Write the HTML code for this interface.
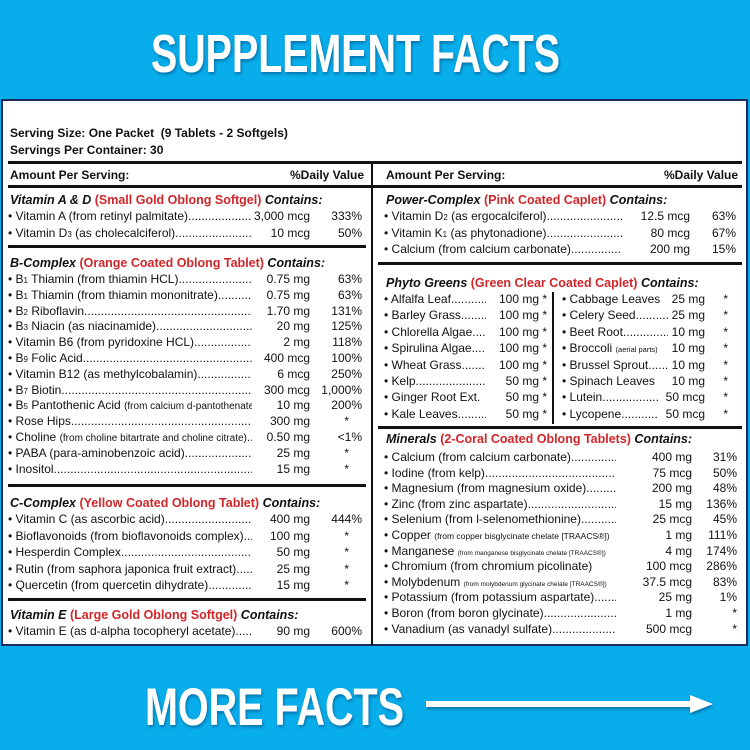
<!DOCTYPE html>
<html><head><meta charset="utf-8"><style>
*{margin:0;padding:0;box-sizing:border-box}
body{width:750px;height:750px;background:#08aeeb;position:relative;overflow:hidden;font-family:"Liberation Sans",Arial,sans-serif;color:#111}
#panel{position:absolute;left:1px;top:99px;width:747px;height:547px;background:#fff;border:2px solid #1d2a5c}
.r{position:absolute;height:16px;line-height:16px;font-size:12px;white-space:nowrap}
.n{position:absolute;overflow:hidden;white-space:nowrap}
.a{position:absolute;text-align:right}
.p{position:absolute;text-align:right}
.h{position:absolute;font-size:12.5px;font-weight:bold;font-style:italic;white-space:nowrap;line-height:16px}
.h span{color:#d0262a;font-style:normal}
.ln{position:absolute;height:3px;background:#111}
.s{font-size:8px}
.t{font-size:7.5px}
</style></head><body>
<svg style="position:absolute;left:0;top:0" width="750" height="750">
<defs><filter id="sh"><feDropShadow dx="1" dy="2" stdDeviation="1.5" flood-color="#036" flood-opacity="0.5"/></filter></defs>
<text x="151" y="72" textLength="409" lengthAdjust="spacingAndGlyphs" font-family="Liberation Sans Narrow, Liberation Sans, sans-serif" font-weight="bold" font-size="54" fill="#fff" filter="url(#sh)">SUPPLEMENT FACTS</text>
<text x="145" y="725" textLength="259" lengthAdjust="spacingAndGlyphs" font-family="Liberation Sans Narrow, Liberation Sans, sans-serif" font-weight="bold" font-size="53" fill="#fff" filter="url(#sh)">MORE FACTS</text>
<g filter="url(#sh)"><rect x="426" y="701" width="266" height="6" fill="#fff"/><polygon points="690,695 713,704 690,713" fill="#fff"/></g>
</svg>
<div id="panel"></div>
<div class="r" style="left:10px;top:125px;font-weight:bold">Serving Size: One Packet&nbsp; (9 Tablets - 2 Softgels)</div>
<div class="r" style="left:10px;top:142px;font-weight:bold">Servings Per Container: 30</div>
<div class="ln" style="left:8px;top:161px;width:734px"></div>
<div style="position:absolute;left:371px;top:162px;width:2px;height:483px;background:#111"></div>
<div class="r" style="left:10px;top:167px;font-weight:bold">Amount Per Serving:</div>
<div class="r" style="left:290px;top:167px;font-weight:bold">%Daily Value</div>
<div class="r" style="left:386px;top:167px;font-weight:bold">Amount Per Serving:</div>
<div class="r" style="left:664px;top:167px;font-weight:bold">%Daily Value</div>
<div class="ln" style="left:8px;top:185px;width:734px"></div>
<div id="L"></div>
<script>
const D='.'.repeat(200);
let html='';
function row(x,y,name,w,amt,ax,aw,pct,px,pw,dots=true){
 html+=`<div class="r" style="left:0;top:${y-8}px;width:750px"><div class="n" style="left:${x}px;width:${w}px">• ${name}${dots?D:''}</div><div class="a" style="left:${ax}px;width:${aw}px">${amt}</div><div class="p" style="left:${px}px;width:${pw}px">${pct}</div></div>`;
}
function hd(x,y,a,b){html+=`<div class="h" style="left:${x}px;top:${y-8}px">${a} <span>${b}</span> Contains:</div>`}
function ln(x,y,w){html+=`<div class="ln" style="left:${x}px;top:${y}px;width:${w}px"></div>`}
const L=(y,n,a,p)=>row(8,y,n,244,a,250,60,p,315,47);
hd(10,200,'Vitamin A &amp; D','(Small Gold Oblong Softgel)');
L(216,'Vitamin A (from retinyl palmitate)','3,000 mcg','333%');
L(233,'Vitamin D<span class="s">3</span> (as cholecalciferol)','10 mcg','50%');
ln(8,245,358);
hd(10,263,'B-Complex','(Orange Coated Oblong Tablet)');
const B=[['B<span class="s">1</span> Thiamin (from thiamin HCL)','0.75 mg','63%'],['B<span class="s">1</span> Thiamin (from thiamin mononitrate)','0.75 mg','63%'],['B<span class="s">2</span> Riboflavin','1.70 mg','131%'],['B<span class="s">3</span> Niacin (as niacinamide)','20 mg','125%'],['Vitamin B6 (from pyridoxine HCL)','2 mg','118%'],['B<span class="s">9</span> Folic Acid','400 mcg','100%'],['Vitamin B12 (as methylcobalamin)','6 mcg','250%'],['B<span class="s">7</span> Biotin','300 mcg','1,000%'],['B<span class="s">5</span> Pantothenic Acid <span style="font-size:10px">(from calcium d-pantothenate)</span>','10 mg','200%'],['Rose Hips','300 mg','*'],['Choline <span style="font-size:10px">(from choline bitartrate and choline citrate)</span>','0.50 mg','&lt;1%'],['PABA (para-aminobenzoic acid)','25 mg','*'],['Inositol','15 mg','*']];
B.forEach((b,i)=>{const y=279+i*15.8;if(b[2]=='*')row(8,y,b[0],244,b[1],250,60,'*',335,14);else L(y,b[0],b[1],b[2]);});
ln(8,484,358);
hd(10,503,'C-Complex','(Yellow Coated Oblong Tablet)');
L(519,'Vitamin C (as ascorbic acid)','400 mg','444%');
[['Bioflavonoids (from bioflavonoids complex)','100 mg'],['Hesperdin Complex','50 mg'],['Rutin (from saphora japonica fruit extract)','25 mg'],['Quercetin (from quercetin dihydrate)','15 mg']].forEach((b,i)=>row(8,536+i*16.4,b[0],244,b[1],250,60,'*',335,14));
ln(8,598,358);
hd(10,615,'Vitamin E','(Large Gold Oblong Softgel)');
L(631,'Vitamin E (as d-alpha tocopheryl acetate)','90 mg','600%');
hd(386,200,'Power-Complex','(Pink Coated Caplet)');
const P=(y,n,a,p)=>row(384,y,n,238,a,625,65,p,700,36);
P(216,'Vitamin D<span class="s">2</span> (as ergocalciferol)','12.5 mcg','63%');
P(233,'Vitamin K<span class="s">1</span> (as phytonadione)','80 mcg','67%');
P(249,'Calcium (from calcium carbonate)','200 mg','15%');
ln(378,262,364);
hd(386,283,'Phyto Greens','(Green Clear Coated Caplet)');
const G1=[['Alfalfa Leaf','100 mg'],['Barley Grass','100 mg'],['Chlorella Algae','100 mg'],['Spirulina Algae','100 mg'],['Wheat Grass','100 mg'],['Kelp','50 mg'],['Ginger Root Ext.','50 mg',0],['Kale Leaves','50 mg']];
const G2=[['Cabbage Leaves','25 mg',0],['Celery Seed','25 mg'],['Beet Root','10 mg'],['Broccoli <span class="t">(aerial parts)</span>','10 mg',0],['Brussel Sprout','10 mg'],['Spinach Leaves','10 mg',0],['Lutein','50 mcg'],['Lycopene','50 mcg']];
G1.forEach((g,i)=>row(384,299+i*16.4,g[0],102,g[1],484,55,'*',539,8,g[2]!==0));
G2.forEach((g,i)=>row(562,299+i*16.4,g[0],G2[i][1].includes('mcg')?96:106,g[1],G2[i][1].includes('mcg')?650:650,55,'*',716,12,g[2]!==0));
html+='<div style="position:absolute;left:552px;top:292px;width:2px;height:132px;background:#111"></div>';
ln(378,426,364);
hd(386,439,'Minerals','(2-Coral Coated Oblong Tablets)');
const M=[['Calcium (from calcium carbonate)','400 mg','31%'],['Iodine (from kelp)','75 mcg','50%'],['Magnesium (from magnesium oxide)','200 mg','48%'],['Zinc (from zinc aspartate)','15 mg','136%'],['Selenium (from l-selenomethionine)','25 mcg','45%'],['Copper <span style="font-size:8.5px">(from copper bisglycinate chelate [TRAACS®])</span>','1 mg','111%'],['Manganese <span style="font-size:6.5px">(from manganese bisglycinate chelate [TRAACS®])</span>','4 mg','174%'],['Chromium (from chromium picolinate)','100 mcg','286%'],['Molybdenum <span style="font-size:6.5px">(from molybdenum glycinate chelate [TRAACS®])</span>','37.5 mcg','83%'],['Potassium (from potassium aspartate)','25 mg','1%'],['Boron (from boron glycinate)','1 mg','*'],['Vanadium (as vanadyl sulfate)','500 mcg','*']];
M.forEach((m,i)=>{const y=457+i*15.6;const dots=!(i==5||i==6||i==7||i==8);row(384,y,m[0],i==8?240:232,m[1],622,70,m[2],697,40,dots);});
document.getElementById('L').innerHTML=html;
</script>
</body></html>
